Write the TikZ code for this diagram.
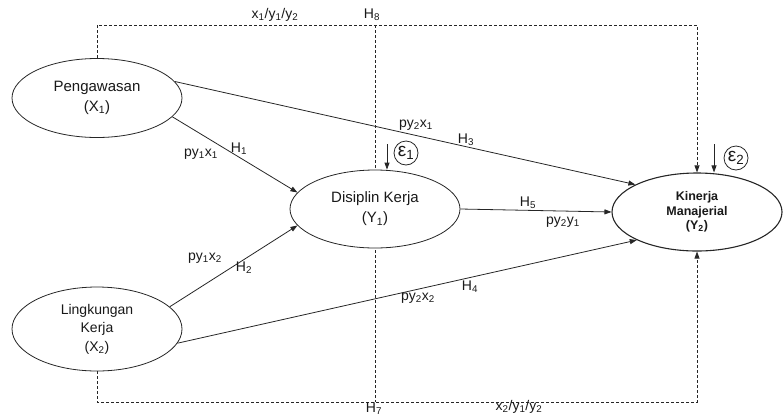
\documentclass[tikz,border=0pt]{standalone}
\usepackage{fontspec}
\setmainfont{Liberation Sans}
\usetikzlibrary{arrows.meta, shapes.geometric, backgrounds, calc}
\tikzset{
	latent/.style={
		ellipse, draw=black!85, fill=white, line width=0.8pt,
		minimum width=170pt, minimum height=79pt, inner sep=0pt,
		align=center, text=black!90, font=\fontsize{15}{20}\selectfont
	},
	arrow/.style={
		-{Triangle[length=7pt, width=5pt]}, line width=0.8pt, color=black!85
	},
	dasharrow/.style={
		-{Triangle[length=7pt, width=5pt]}, line width=0.8pt, color=black!85,
		dash pattern=on 3pt off 2pt
	},
	dashline/.style={
		line width=0.8pt, color=black!85, dash pattern=on 3pt off 2pt
	},
	pathlabel/.style={
		inner sep=0pt, text=black!90, font=\fontsize{14}{16}\selectfont
	},
	errorbox/.style={
		circle, draw=black!85, line width=0.8pt, minimum size=24pt,
		inner sep=0pt, text=black!90, font=\fontsize{19}{20}\selectfont
	}
}
\newcommand{\sub}[1]{\textsubscript{#1}}

\begin{document}
\begin{tikzpicture}[x=1pt, y=-1pt]
	\useasboundingbox (0,0) rectangle (784,416);

	%% ===============================
	%%  Variabel laten
	%% ===============================
	\node[latent] (peng) at (97,98) {Pengawasan\\(X\sub{1})};
	\node[latent, minimum height=84pt,
	font=\fontsize{14}{18.5}\selectfont] (ling) at (97,329) {Lingkungan\\Kerja\\(X\sub{2})};
	\node[latent, minimum height=78pt] (dis) at (375,209) {Disiplin Kerja\\(Y\sub{1})};
	\node[latent, minimum height=78pt, line width=1.1pt,
	font=\fontsize{12.5}{14.5}\selectfont\bfseries] (kin) at (697,212) {Kinerja\\Manajerial\\(Y\sub{2})};

	%% ===============================
	%%  Galat
	%% ===============================
	\node[errorbox] (eps1) at (406,153) {ε\sub{1}};
	\node[errorbox] (eps2) at (736,158) {ε\sub{2}};
	\coordinate (e1top) at (387,144);
	\coordinate (e2top) at (714,144);
	\draw[arrow] (e1top) -- (e1top |- dis.north);
	\draw[arrow] (e2top) -- (e2top |- kin.north);

	%% ===============================
	%%  Jalur tidak langsung (dashed)
	%% ===============================
	\coordinate (topline) at (0,25);
	\coordinate (botline) at (0,402);
	\begin{scope}[on background layer]
		\draw[dashline] (dis.center |- topline) -- (dis.center |- botline);
	\end{scope}
	\draw[dasharrow] (peng.north) -- (peng.north |- topline) -| (kin.north);
	\draw[dasharrow] (ling.south) -- (ling.south |- botline) -| (kin.south);

	\node[pathlabel] (lblx1) at (275,15) {x\sub{1}/y\sub{1}/y\sub{2}};
	\node[pathlabel] (lblh8) at (372,15) {H\sub{8}};
	\node[pathlabel] (lblh7) at (374,409) {H\sub{7}};
	\node[pathlabel] (lblx2) at (519,407) {x\sub{2}/y\sub{1}/y\sub{2}};

	%% ===============================
	%%  Jalur langsung
	%% ===============================
	% X1 -> Y1
	\draw[arrow] (peng.-14) -- (dis.168);
	\node[pathlabel] (lblpy1x1) at (201,154) {py\sub{1}x\sub{1}};
	\node[pathlabel] (lblh1) at (239,149) {H\sub{1}};

	% X2 -> Y1
	\draw[arrow] (ling.17) -- (dis.192);
	\node[pathlabel] (lblpy1x2) at (205,258) {py\sub{1}x\sub{2}};
	\node[pathlabel] (lblh2) at (244,268) {H\sub{2}};

	% X1 -> Y2
	\draw[arrow] (peng.12) -- (kin.156);
	\node[pathlabel] (lblpy2x1) at (416,125) {py\sub{2}x\sub{1}};
	\node[pathlabel] (lblh3) at (466,140) {H\sub{3}};

	% X2 -> Y2
	\draw[arrow] (ling.-10) -- (kin.205);
	\node[pathlabel] (lblpy2x2) at (418,298) {py\sub{2}x\sub{2}};
	\node[pathlabel] (lblh4) at (470,287) {H\sub{4}};

	% Y1 -> Y2
	\draw[arrow] (dis.east) -- (kin.west);
	\node[pathlabel] (lblh5) at (528,203) {H\sub{5}};
	\node[pathlabel] (lblpy2y1) at (563,222) {py\sub{2}y\sub{1}};

\end{tikzpicture}
\end{document}
